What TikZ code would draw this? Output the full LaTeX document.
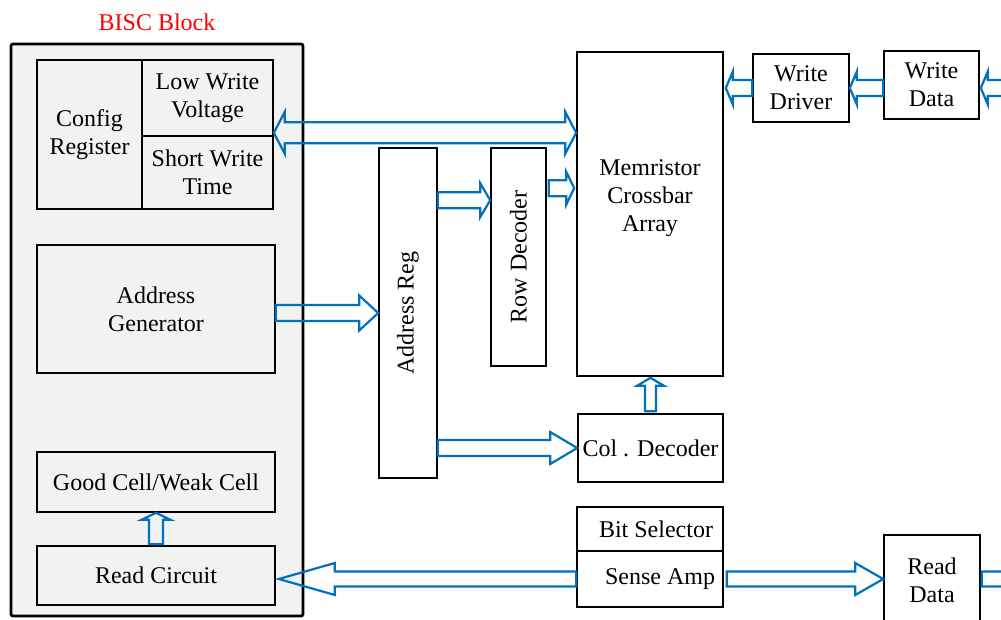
\documentclass[tikz,border=0pt]{standalone}
\usepackage{fontspec}
\setmainfont{Liberation Serif}
\usetikzlibrary{calc}

\definecolor{flowblue}{HTML}{0070C0}
\definecolor{biscgray}{HTML}{F2F2F2}

% hollow block arrow: from, to, shaft half width, head half width, head length
\newcommand{\flowarrow}[5]{%
  \draw[flow] ($(#1)!#3!90:(#2)$) -- ($(#2)!#5!(#1)!#3!90:(#2)$) -- ($(#2)!#5!(#1)!#4!90:(#2)$) -- (#2)
    -- ($(#2)!#5!(#1)!#4!-90:(#2)$) -- ($(#2)!#5!(#1)!#3!-90:(#2)$) -- ($(#1)!#3!-90:(#2)$) -- cycle;}
% same, with a head at both ends
\newcommand{\dflowarrow}[5]{%
  \draw[flow] (#1) -- ($(#1)!#5!(#2)!#4!90:(#2)$) -- ($(#1)!#5!(#2)!#3!90:(#2)$)
    -- ($(#2)!#5!(#1)!#3!90:(#2)$) -- ($(#2)!#5!(#1)!#4!90:(#2)$) -- (#2)
    -- ($(#2)!#5!(#1)!#4!-90:(#2)$) -- ($(#2)!#5!(#1)!#3!-90:(#2)$)
    -- ($(#1)!#5!(#2)!#3!-90:(#2)$) -- ($(#1)!#5!(#2)!#4!-90:(#2)$) -- cycle;}

\begin{document}
\begin{tikzpicture}[x=1pt, y=-1pt,
    every node/.style={font=\fontsize{24}{28}\selectfont},
    box/.style={draw, line width=1.6pt, inner sep=0pt, align=center},
    graybox/.style={box, fill=biscgray},
    flow/.style={draw=flowblue, line width=2.2pt}]
    \useasboundingbox (0,0) rectangle (1001,619);
    \clip (0,0) rectangle (1001,619);

    % BISC block
    \node[red] (bisclbl) at (157,22) {BISC Block};
    \node[graybox, line width=2.8pt, rounded corners=2pt, minimum width=292pt, minimum height=572pt] (bisc) at (157,330) {};
    \node[graybox, minimum width=105pt, minimum height=149pt] (cfg) at (89.5,134.5) {Config\\Register};
    \node[graybox, minimum width=131pt, minimum height=76pt] (lwv) at (207.5,98) {Low Write\\Voltage};
    \node[graybox, minimum width=131pt, minimum height=73pt] (swt) at (207.5,172.5) {Short Write\\Time};
    \node[graybox, minimum width=238pt, minimum height=128pt] (agen) at (156,309) {Address\\Generator};
    \node[graybox, minimum width=238pt, minimum height=60pt] (good) at (156,482) {Good Cell/Weak Cell};
    \node[graybox, minimum width=238pt, minimum height=59pt] (rcir) at (156,575.5) {Read Circuit};

    % Memory side
    \node[box, minimum width=58pt, minimum height=330pt] (areg) at (408,313) {};
    \node[rotate=90] (areglbl) at (areg) {Address Reg};
    \node[box, minimum width=55pt, minimum height=218pt] (rdec) at (518.5,257) {};
    \node[rotate=90] (rdeclbl) at (rdec) {Row Decoder};
    \node[box, minimum width=146pt, minimum height=324pt] (xbar) at (650,214) {};
    \node[align=center] (xbarlbl) at (650,198) {Memristor\\Crossbar\\Array};
    \node[box, minimum width=145pt, minimum height=68pt] (cdec) at (650.5,448) {Col . Decoder};
    \node[box, minimum width=146pt, minimum height=44pt] (bsel) at (650,529) {\hspace*{12pt}Bit Selector};
    \node[box, minimum width=146pt, minimum height=56pt] (samp) at (650,579) {\hspace*{20pt}Sense Amp};
    \node[box, minimum width=96pt, minimum height=68pt] (wdrv) at (801,88) {Write\\Driver};
    \node[box, minimum width=95pt, minimum height=68pt] (wdat) at (931.5,85) {Write\\Data};
    \node[box, minimum width=96pt, minimum height=90pt] (rdat) at (932,580) {Read\\Data};

    % Write path
    \coordinate (vl) at ([yshift=4pt]lwv.south east);
    \coordinate (vr) at (xbar.west |- vl);
    \dflowarrow{vl}{vr}{10.5pt}{21pt}{11pt}
    \coordinate (wt0) at ([xshift=60pt]wdat.east |- wdrv.west);
    \coordinate (wt2) at ([xshift=1pt]wdat.east |- wdrv.west);
    \flowarrow{wt0}{wt2}{8pt}{16.5pt}{7pt}
    \coordinate (wt1) at (wdat.west |- wdrv.west);
    \flowarrow{wt1}{wdrv.east}{8pt}{16.5pt}{7pt}
    \coordinate (wd1) at ([xshift=2pt]xbar.east |- wdrv.west);
    \flowarrow{wdrv.west}{wd1}{8pt}{16.5pt}{7pt}

    % Addressing
    \coordinate (ag1) at (agen.east |- areg.west);
    \flowarrow{ag1}{areg.west}{8pt}{17.5pt}{19pt}
    \coordinate (ar1) at ([yshift=-53pt]areg.north east);
    \coordinate (ar2) at (rdec.west |- ar1);
    \flowarrow{ar1}{ar2}{8pt}{17pt}{10pt}
    \coordinate (rd1) at ([shift={(2pt,-41pt)}]rdec.north east);
    \coordinate (rd2) at ([xshift=-2pt]xbar.west |- rd1);
    \flowarrow{rd1}{rd2}{8pt}{16.5pt}{8pt}
    \coordinate (ac1) at (areg.east |- cdec.west);
    \flowarrow{ac1}{cdec.west}{8pt}{16pt}{27pt}
    \coordinate (cd1) at ([yshift=2pt]cdec.north);
    \coordinate (cd2) at ([yshift=-1pt]xbar.south -| cd1);
    \flowarrow{cd1}{cd2}{5.5pt}{13.5pt}{8pt}

    % Read path
    \coordinate (sa1) at ([xshift=3pt]rcir.east |- samp.west);
    \flowarrow{samp.west}{sa1}{7.5pt}{16pt}{56pt}
    \coordinate (sa2) at ([xshift=3pt]samp.east);
    \coordinate (sa3) at (rdat.west |- samp.east);
    \flowarrow{sa2}{sa3}{7.5pt}{16pt}{28pt}
    \coordinate (rt1) at ([xshift=1pt]rdat.east |- samp.east);
    \coordinate (rt2) at ([xshift=80pt]rdat.east |- samp.east);
    \flowarrow{rt1}{rt2}{7.5pt}{16pt}{7pt}
    \coordinate (rc1) at ([yshift=1pt]rcir.north);
    \flowarrow{rc1}{good.south}{7pt}{14.5pt}{7pt}
\end{tikzpicture}
\end{document}
